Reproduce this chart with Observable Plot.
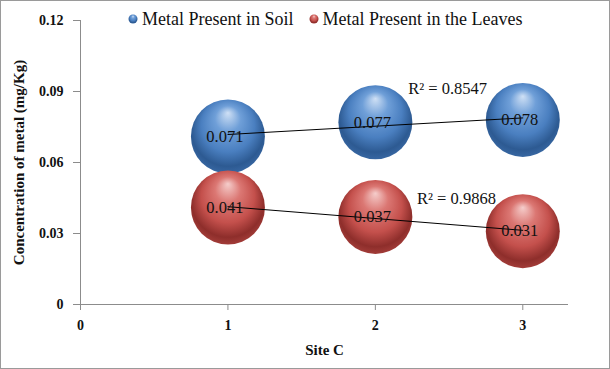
<!DOCTYPE html>
<html>
<head>
<meta charset="utf-8">
<script src="https://cdn.jsdelivr.net/npm/d3@7"></script>
<script src="https://cdn.jsdelivr.net/npm/@observablehq/plot@0.6"></script>
<style>
  html, body { margin: 0; padding: 0; background: #fff; }
  #wrap { position: relative; width: 610px; height: 369px; }
  #wrap > svg { display: block; outline: 1px solid #9a9a9a; outline-offset: -1px; }
  #wrap svg text { font-family: "Liberation Serif", "Times New Roman", serif; }
  .legend { position: absolute; top: 9px; left: 128px; display: flex; gap: 15px;
    font-family: "Liberation Serif", "Times New Roman", serif; font-size: 18px; color: #111;
    line-height: 20px; }
  .legend span.item { display: flex; align-items: center; gap: 4px; }
</style>
</head>
<body>
<div id="wrap"></div>
<script>
const sites = [1, 2, 3];
const soil = [0.071, 0.077, 0.078];
const leaves = [0.041, 0.037, 0.031];
const seriesNames = ["Metal Present in Soil", "Metal Present in the Leaves"];
const r2Labels = ["R² = 0.8547", "R² = 0.9868"];
const r2X = [2.49, 2.55];
const r2Y = [0.0912, 0.0446];
const xTicks = [0, 1, 2, 3];
const yTicks = [0, 0.03, 0.06, 0.09, 0.12];

const rows = [];
sites.forEach((s, i) => {
  rows.push({site: s, value: soil[i], series: seriesNames[0]});
  rows.push({site: s, value: leaves[i], series: seriesNames[1]});
});
const soilRows = rows.filter(d => d.series === seriesNames[0]);
const leafRows = rows.filter(d => d.series === seriesNames[1]);
const r2Rows = r2Labels.map((t, i) => ({text: t, x: r2X[i], y: r2Y[i]}));

const serif = "Liberation Serif, Times New Roman, serif";
const grey = "#8c8c8c";

const chart = Plot.plot({
  width: 610,
  height: 369,
  marginLeft: 80,
  marginRight: 42,
  marginTop: 20,
  marginBottom: 65,
  style: {fontFamily: serif, fontSize: "14px", color: "#111", background: "#fff"},
  x: {domain: [0, 3.31], label: null},
  y: {domain: [0, 0.12], label: null},
  marks: [
    Plot.ruleY([0], {stroke: grey}),
    Plot.ruleX([0], {stroke: grey}),
    Plot.axisY({ticks: yTicks, tickSize: 7, tickPadding: 10, stroke: grey,
      tickFormat: d => d === 0 ? "0" : String(d), fontWeight: "bold", fontSize: 14,
      label: "Concentration of metal (mg/Kg)", labelAnchor: "center", labelArrow: "none",
      labelOffset: 67, fontSize: 14}),
    Plot.axisX({ticks: xTicks, tickSize: 6, tickPadding: 10, stroke: grey,
      tickFormat: d => String(d), fontWeight: "bold", fontSize: 14,
      label: "Site C", labelAnchor: "center", labelArrow: "none", labelOffset: 50}),
    Plot.dot(soilRows, {x: "site", y: "value", r: 37, fill: "url(#sphereBlue)", stroke: "none"}),
    Plot.dot(leafRows, {x: "site", y: "value", r: 37, fill: "url(#sphereRed)", stroke: "none"}),
    Plot.linearRegressionY(soilRows, {x: "site", y: "value", stroke: "#000", strokeWidth: 1, ci: 0}),
    Plot.linearRegressionY(leafRows, {x: "site", y: "value", stroke: "#000", strokeWidth: 1, ci: 0}),
    Plot.text(rows, {x: "site", y: "value", text: d => String(d.value), fontSize: 16.5, fill: "#111", dx: -3}),
    Plot.text(r2Rows, {x: "x", y: "y", text: "text", fontSize: 16.5, fill: "#111"})
  ]
});

// enlarge the axis titles slightly
chart.querySelectorAll("g[aria-label='y-axis label'] text, g[aria-label='x-axis label'] text")
  .forEach(t => t.setAttribute("font-size", 15));

// sphere gradients
function addDefs(svg, ids) {
  const ns = "http://www.w3.org/2000/svg";
  const defs = document.createElementNS(ns, "defs");
  const specs = [
    [ids[0], ["#cfe0f5", "#6f9fd8", "#4a7fc0", "#2d5a92", "#3a6aa6"]],
    [ids[1], ["#f5cdcb", "#db7773", "#c4504c", "#8e2e2b", "#a8403c"]]
  ];
  for (const [id, c] of specs) {
    const g = document.createElementNS(ns, "radialGradient");
    g.setAttribute("id", id);
    g.setAttribute("cx", "50%"); g.setAttribute("cy", "45%"); g.setAttribute("r", "58%");
    g.setAttribute("fx", "50%"); g.setAttribute("fy", "18%");
    [[0, c[0]], [0.3, c[1]], [0.62, c[2]], [0.85, c[3]], [1, c[4]]].forEach(([o, col]) => {
      const s = document.createElementNS(ns, "stop");
      s.setAttribute("offset", o); s.setAttribute("stop-color", col);
      g.appendChild(s);
    });
    defs.appendChild(g);
  }
  svg.insertBefore(defs, svg.firstChild);
}
addDefs(chart, ["sphereBlue", "sphereRed"]);

const wrap = document.getElementById("wrap");
wrap.appendChild(chart);

// legend overlay
const legend = document.createElement("div");
legend.className = "legend";
seriesNames.forEach((name, i) => {
  const item = document.createElement("span");
  item.className = "item";
  const sw = document.createElementNS("http://www.w3.org/2000/svg", "svg");
  sw.setAttribute("width", 10); sw.setAttribute("height", 10);
  addDefs(sw, ["lgBlue" + i, "lgRed" + i]);
  const c = document.createElementNS("http://www.w3.org/2000/svg", "circle");
  c.setAttribute("cx", 5); c.setAttribute("cy", 5); c.setAttribute("r", 4.5);
  c.setAttribute("fill", i === 0 ? "url(#lgBlue0)" : "url(#lgRed1)");
  sw.appendChild(c);
  item.appendChild(sw);
  const t = document.createElement("span");
  t.textContent = name;
  item.appendChild(t);
  legend.appendChild(item);
});
wrap.appendChild(legend);
</script>
</body>
</html>
